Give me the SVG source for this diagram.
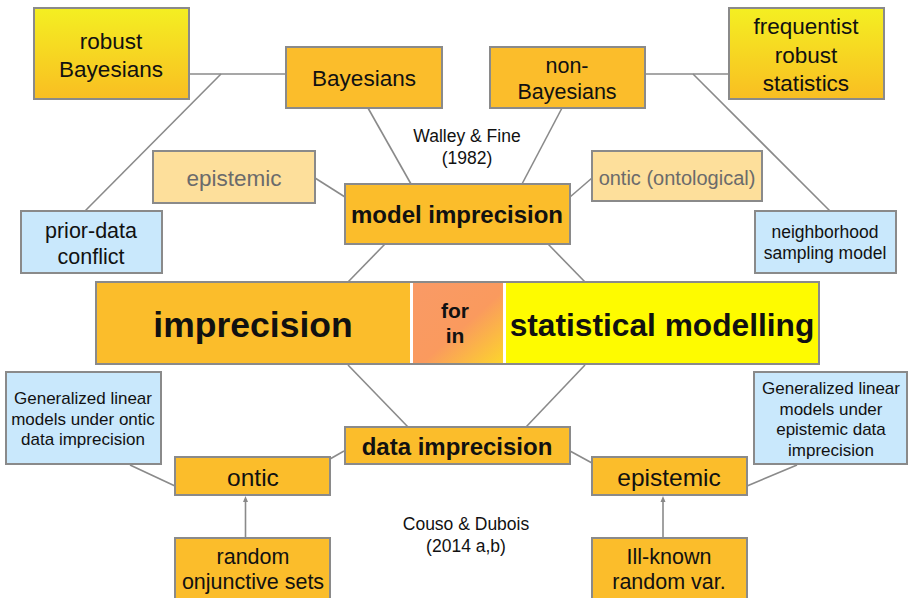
<svg xmlns="http://www.w3.org/2000/svg" width="908" height="598" viewBox="0 0 908 598">
<defs>
<linearGradient id="gy" x1="0" y1="0" x2="0" y2="1">
<stop offset="0" stop-color="#f4ef22"/>
<stop offset="1" stop-color="#f9be22"/>
</linearGradient>
<linearGradient id="gf" x1="0" y1="0" x2="1" y2="1">
<stop offset="0" stop-color="#f99a66"/>
<stop offset="0.55" stop-color="#fa9a5e"/>
<stop offset="1" stop-color="#fcd52c"/>
</linearGradient>
<marker id="ar" markerWidth="6" markerHeight="6" refX="3" refY="3" orient="auto" markerUnits="userSpaceOnUse">
<path d="M0,0.5 L6,3 L0,5.5 z" fill="#888"/>
</marker>
<style>
.b{stroke:#8a8a8a;stroke-width:2}
.o{fill:#fbbd2b}
.y{fill:url(#gy)}
.lb{fill:#c9e8fc}
.lo{fill:#fddf9b}
text{font-family:"Liberation Sans",Arial,sans-serif;text-anchor:middle;fill:#111}
.t22{font-size:22.5px}
.t21{font-size:21.5px}
.t17{font-size:17px}
.t18{font-size:17.5px}
.g{fill:#6b6b6b}
.bd{font-weight:bold}
.c line{stroke:#8a8a8a;stroke-width:1.6;fill:none}
</style>
</defs>
<g class="c" id="connectors">
<line x1="189" y1="74" x2="286" y2="74"/>
<line x1="221" y1="74" x2="85" y2="211"/>
<line x1="368" y1="108" x2="411" y2="184"/>
<line x1="315" y1="178" x2="345" y2="197"/>
<line x1="645" y1="74" x2="729" y2="74"/>
<line x1="693" y1="74" x2="830" y2="211"/>
<line x1="562" y1="108" x2="522" y2="184"/>
<line x1="570" y1="197" x2="592" y2="178"/>
<line x1="385" y1="244" x2="348" y2="282"/>
<line x1="548" y1="244" x2="585" y2="282"/>
<line x1="348" y1="365" x2="408" y2="427"/>
<line x1="585" y1="365" x2="526" y2="427"/>
<line x1="330" y1="459" x2="344" y2="451"/>
<line x1="570" y1="451" x2="592" y2="463"/>
<line x1="130" y1="465" x2="175" y2="486"/>
<line x1="797" y1="465" x2="747" y2="486"/>
<line x1="245.5" y1="538" x2="245.5" y2="499" marker-end="url(#ar)"/>
<line x1="663" y1="538" x2="663" y2="499" marker-end="url(#ar)"/>
</g>
<g id="robust-bayesians"><rect x="34" y="8" width="155" height="91" class="y b"/><text class="t22" x="111" y="49">robust</text><text class="t22" x="111" y="77">Bayesians</text></g>
<g id="bayesians"><rect x="286" y="47" width="156" height="61" class="o b"/><text class="t22" x="364" y="86">Bayesians</text></g>
<g id="non-bayesians"><rect x="490" y="47" width="155" height="61" class="o b"/><text class="t21" x="567" y="73">non-</text><text class="t21" x="567" y="99">Bayesians</text></g>
<g id="frequentist"><rect x="729" y="8" width="155" height="91" class="y b"/><text class="t22" x="806" y="34">frequentist</text><text class="t22" x="806" y="63">robust</text><text class="t22" x="806" y="91">statistics</text></g>
<g id="walley"><text class="t18" x="467" y="142">Walley &amp; Fine</text><text class="t18" x="467" y="164">(1982)</text></g>
<g id="epistemic-model"><rect x="153" y="151" width="162" height="52" class="lo b"/><text class="t22 g" x="234" y="186">epistemic</text></g>
<g id="ontic-model"><rect x="592" y="151" width="170" height="50" class="lo b"/><text class="g" font-size="20" x="677" y="185">ontic (ontological)</text></g>
<g id="model-imprecision"><rect x="345" y="184" width="225" height="60" class="o b"/><text class="bd" font-size="24" x="457" y="223">model imprecision</text></g>
<g id="prior-data"><rect x="21" y="211" width="141" height="62" class="lb b"/><text class="t21" x="91" y="238">prior-data</text><text class="t21" x="91" y="264">conflict</text></g>
<g id="neighborhood"><rect x="755" y="211" width="141" height="62" class="lb b"/><text font-size="17.5" x="825" y="238">neighborhood</text><text font-size="17.5" x="825" y="259">sampling model</text></g>
<g id="central">
<rect x="96" y="282" width="723" height="82" fill="#fff" class="b"/>
<rect x="97" y="283" width="313" height="80" class="o"/>
<rect x="413" y="283" width="90" height="80" fill="url(#gf)"/>
<rect x="506" y="283" width="312" height="80" fill="#fefb00"/>
<text class="bd" font-size="35.5" x="253" y="337">imprecision</text>
<text class="bd" font-size="21" x="455" y="318">for</text>
<text class="bd" font-size="21" x="455" y="343">in</text>
<text class="bd" font-size="31.7" x="662" y="336">statistical modelling</text>
</g>
<g id="glm-ontic"><rect x="6" y="372" width="155" height="92" class="lb b"/><text class="t17" x="83" y="404">Generalized linear</text><text class="t17" x="83" y="425">models under ontic</text><text class="t17" x="83" y="445">data imprecision</text></g>
<g id="glm-epistemic"><rect x="754" y="372" width="153" height="92" class="lb b"/><text class="t17" x="831" y="394">Generalized linear</text><text class="t17" x="831" y="415">models under</text><text class="t17" x="831" y="435">epistemic data</text><text class="t17" x="831" y="456">imprecision</text></g>
<g id="data-imprecision"><rect x="345" y="427" width="225" height="37" class="o b"/><text class="bd" font-size="24" x="457" y="455">data imprecision</text></g>
<g id="ontic"><rect x="175" y="457" width="155" height="38" class="o b"/><text font-size="24.5" x="253" y="486">ontic</text></g>
<g id="epistemic"><rect x="592" y="457" width="155" height="38" class="o b"/><text font-size="24.5" x="669" y="486">epistemic</text></g>
<g id="couso"><text class="t18" x="466" y="530">Couso &amp; Dubois</text><text class="t18" x="466" y="552">(2014 a,b)</text></g>
<g id="random-sets"><rect x="175" y="538" width="155" height="70" class="o b"/><text class="t21" x="253" y="564">random</text><text class="t21" x="253" y="589">onjunctive sets</text></g>
<g id="ill-known"><rect x="592" y="538" width="155" height="70" class="o b"/><text class="t21" x="669" y="564">Ill-known</text><text class="t21" x="669" y="589">random var.</text></g>
</svg>
